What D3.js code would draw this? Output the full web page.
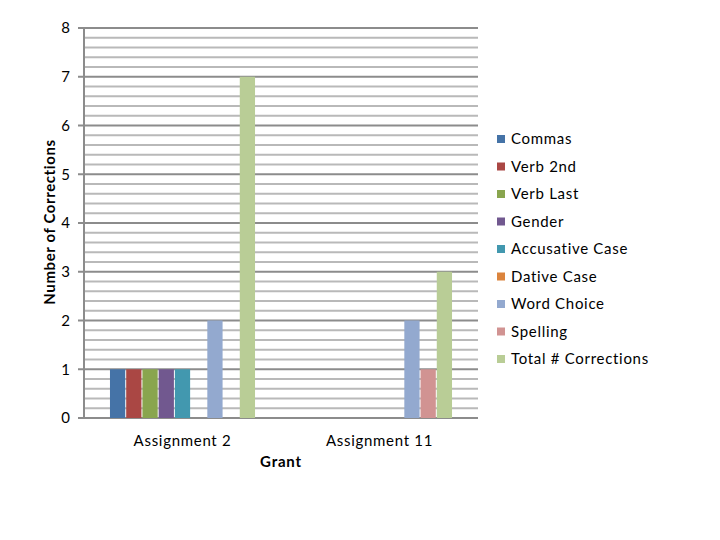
<!DOCTYPE html>
<html>
<head>
<meta charset="utf-8">
<script src="https://cdn.jsdelivr.net/npm/d3@7"></script>
<style>
  body { margin: 0; background: #fff; }
  svg { display: block; font-family: Lato, "Open Sans", sans-serif; }
</style>
</head>
<body>
<svg id="chart" width="720" height="540"></svg>
<script>
// data
const categories = ["Assignment 2", "Assignment 11"];
const seriesNames = ["Commas", "Verb 2nd", "Verb Last", "Gender", "Accusative Case",
  "Dative Case", "Word Choice", "Spelling", "Total # Corrections"];
const seriesColors = ["#4573a7", "#aa4744", "#89a54e", "#71588f", "#4298af",
  "#db843d", "#93a9cf", "#d19392", "#b9cd96"];
// one array per category, in series order (null = no bar)
const assignment2 = [1, 1, 1, 1, 1, null, 2, null, 7];
const assignment11 = [null, null, null, null, null, null, 2, 1, 3];
const yTicks = [0, 1, 2, 3, 4, 5, 6, 7, 8];

const values = [assignment2, assignment11];

const svg = d3.select("#chart");
const plotLeft = 84, plotRight = 478, plotTop = 28, plotBottom = 418;

const y = d3.scaleLinear().domain([0, 8]).range([plotBottom, plotTop]);
const x0 = d3.scaleBand().domain(categories).range([plotLeft, plotRight]).paddingInner(0).paddingOuter(0);
const x1 = d3.scaleBand().domain(seriesNames).range([25, x0.bandwidth() - 25]).padding(0.06);

// minor grid
const minor = d3.range(0, 8.001, 0.2).filter(v => Math.abs(v - Math.round(v)) > 0.01);
svg.append("g").selectAll("line").data(minor).join("line")
  .attr("x1", plotLeft).attr("x2", plotRight)
  .attr("y1", d => y(d)).attr("y2", d => y(d))
  .attr("stroke", "#b9b9b9").attr("stroke-width", 2);

// major grid + ticks
svg.append("g").selectAll("line").data(yTicks).join("line")
  .attr("x1", plotLeft - 6).attr("x2", plotRight)
  .attr("y1", d => y(d)).attr("y2", d => y(d))
  .attr("stroke", "#8c8c8c").attr("stroke-width", 2);

// y axis line
svg.append("line")
  .attr("x1", plotLeft).attr("x2", plotLeft).attr("y1", plotTop).attr("y2", plotBottom)
  .attr("stroke", "#8c8c8c").attr("stroke-width", 2);

svg.append("g").selectAll("text").data(yTicks).join("text")
  .attr("x", 70).attr("y", d => y(d)).attr("dy", "0.35em")
  .attr("text-anchor", "end").attr("font-size", 15).attr("fill", "#000")
  .text(d => d);

// bars
const groups = svg.append("g").selectAll("g").data(categories).join("g")
  .attr("transform", d => `translate(${x0(d)},0)`);

groups.selectAll("rect")
  .data((c, i) => values[i].map((v, j) => ({ name: seriesNames[j], v, color: seriesColors[j] })).filter(d => d.v != null))
  .join("rect")
  .attr("x", d => x1(d.name))
  .attr("width", x1.bandwidth())
  .attr("y", d => y(d.v))
  .attr("height", d => y(0) - y(d.v))
  .attr("fill", d => d.color);

// category labels
svg.append("g").selectAll("text").data(categories).join("text")
  .attr("x", d => x0(d) + x0.bandwidth() / 2).attr("y", 446)
  .attr("text-anchor", "middle").attr("font-size", 15).attr("letter-spacing", 0.7)
  .text(d => d);

// axis titles
svg.append("text")
  .attr("x", 281).attr("y", 467)
  .attr("text-anchor", "middle").attr("font-size", 15).attr("font-weight", "bold")
  .attr("letter-spacing", 0.8)
  .text("Grant");

svg.append("text")
  .attr("transform", "translate(55,222) rotate(-90)")
  .attr("text-anchor", "middle").attr("font-size", 15).attr("font-weight", "bold")
  .attr("letter-spacing", 0.6)
  .text("Number of Corrections");

// legend
const legend = svg.append("g").selectAll("g").data(seriesNames).join("g")
  .attr("transform", (d, i) => `translate(497,${139 + i * 27.5})`);
legend.append("rect")
  .attr("x", 0).attr("y", -4).attr("width", 8).attr("height", 8)
  .attr("fill", (d, i) => seriesColors[i]);
legend.append("text")
  .attr("x", 14).attr("dy", "0.35em").attr("font-size", 15).attr("letter-spacing", 0.7)
  .text(d => d);
</script>
</body>
</html>
